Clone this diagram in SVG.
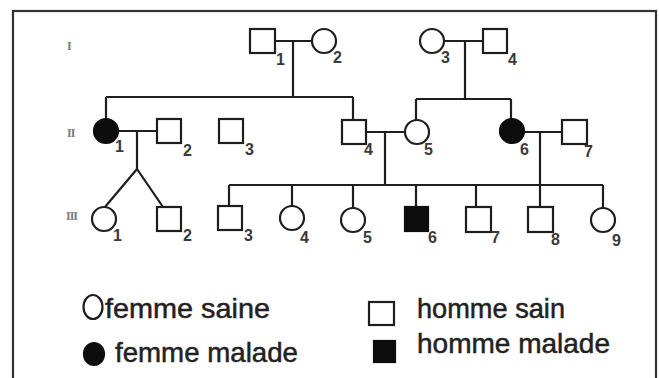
<svg xmlns="http://www.w3.org/2000/svg" width="659" height="378" viewBox="0 0 659 378">
  <style>
    .frame { fill: #ffffff; stroke: #333333; stroke-width: 2.2; }
    .sym { fill: #ffffff; stroke: #1e1e1e; stroke-width: 2.2; }
    .ill { fill: #0d0d0d; stroke: #0d0d0d; stroke-width: 2.2; }
    .link { fill: none; stroke: #1e1e1e; stroke-width: 2.2; }
    .num { font-family: "Liberation Sans", Arial, sans-serif; font-size: 16px; font-weight: bold; fill: #3a3a3a; }
    .gen { font-family: "Liberation Serif", serif; font-size: 12px; font-weight: bold; fill: #7a7a7a; letter-spacing: -1px; }
    .key { font-family: "Liberation Sans", Arial, sans-serif; font-size: 28px; fill: #222222; stroke: #222222; stroke-width: 0.5; }
  </style>

  <rect x="0" y="0" width="659" height="378" fill="#ffffff"/>
  <rect class="frame" x="13" y="11" width="643" height="380"/>

  <!-- generation numerals -->
  <text class="gen" x="67" y="50">I</text>
  <text class="gen" x="67" y="137">II</text>
  <text class="gen" x="66" y="220">III</text>

  <!-- connectors: couples, sibships, twins -->
  <g id="connectors">
    <path class="link" d="M275 41 H312 M293 41 V97"/>
    <path class="link" d="M444 41 H483 M465 41 V99"/>
    <path class="link" d="M106 97 H353 M106 97 V119 M353 97 V120"/>
    <path class="link" d="M416 99 H511 M416 99 V120 M511 99 V119"/>
    <path class="link" d="M118 131 H157 M137 131 V169 L105 207 M137 169 L163 207"/>
    <path class="link" d="M366 132 H405 M385 132 V185"/>
    <path class="link" d="M524 132 H562 M540 132 V185"/>
    <path class="link" d="M229 185 H603 M229 185 V206 M292 185 V206 M353 185 V208 M416 185 V207 M476 185 V207 M540 185 V207 M603 185 V208"/>
  </g>

  <!-- generation I -->
  <g id="I-1"><rect class="sym" x="250" y="29" width="25" height="24"/><text class="num" x="276" y="65">1</text></g>
  <g id="I-2"><circle class="sym" cx="324" cy="41" r="12"/><text class="num" x="333" y="63">2</text></g>
  <g id="I-3"><circle class="sym" cx="432" cy="41" r="12"/><text class="num" x="441" y="63">3</text></g>
  <g id="I-4"><rect class="sym" x="483" y="29" width="24" height="24"/><text class="num" x="508" y="65">4</text></g>

  <!-- generation II -->
  <g id="II-1"><circle class="ill" cx="106" cy="131" r="12"/><text class="num" x="115" y="152">1</text></g>
  <g id="II-2"><rect class="sym" x="157" y="119" width="24" height="24"/><text class="num" x="183" y="156">2</text></g>
  <g id="II-3"><rect class="sym" x="219" y="119" width="24" height="24"/><text class="num" x="245" y="155">3</text></g>
  <g id="II-4"><rect class="sym" x="342" y="120" width="24" height="24"/><text class="num" x="364" y="155">4</text></g>
  <g id="II-5"><circle class="sym" cx="417" cy="132" r="12"/><text class="num" x="424" y="155">5</text></g>
  <g id="II-6"><circle class="ill" cx="512" cy="131" r="12"/><text class="num" x="520" y="155">6</text></g>
  <g id="II-7"><rect class="sym" x="562" y="120" width="25" height="24"/><text class="num" x="584" y="157">7</text></g>

  <!-- generation III -->
  <g id="III-1"><circle class="sym" cx="104" cy="219" r="12"/><text class="num" x="113" y="241">1</text></g>
  <g id="III-2"><rect class="sym" x="157" y="207" width="24" height="24"/><text class="num" x="183" y="241">2</text></g>
  <g id="III-3"><rect class="sym" x="218" y="206" width="24" height="24"/><text class="num" x="244" y="241">3</text></g>
  <g id="III-4"><circle class="sym" cx="292" cy="218" r="12"/><text class="num" x="300" y="243">4</text></g>
  <g id="III-5"><circle class="sym" cx="353" cy="220" r="12"/><text class="num" x="363" y="243">5</text></g>
  <g id="III-6"><rect class="ill" x="405" y="207" width="23" height="24"/><text class="num" x="428" y="243">6</text></g>
  <g id="III-7"><rect class="sym" x="466" y="207" width="25" height="25"/><text class="num" x="491" y="243">7</text></g>
  <g id="III-8"><rect class="sym" x="528" y="207" width="25" height="25"/><text class="num" x="551" y="245">8</text></g>
  <g id="III-9"><circle class="sym" cx="603" cy="220" r="12"/><text class="num" x="612" y="246">9</text></g>

  <!-- key -->
  <g id="key">
    <ellipse class="sym" cx="93" cy="307" rx="9.5" ry="12"/>
    <text class="key" x="105" y="318" textLength="165" lengthAdjust="spacingAndGlyphs">femme saine</text>
    <ellipse class="ill" cx="94" cy="354" rx="10" ry="11"/>
    <text class="key" x="115" y="362" textLength="183" lengthAdjust="spacingAndGlyphs">femme malade</text>
    <rect class="sym" x="369" y="302" width="25" height="23"/>
    <text class="key" x="417" y="318" textLength="148" lengthAdjust="spacingAndGlyphs">homme sain</text>
    <rect class="ill" x="374" y="341" width="21" height="21"/>
    <text class="key" x="417" y="353" textLength="193" lengthAdjust="spacingAndGlyphs">homme malade</text>
  </g>
</svg>
